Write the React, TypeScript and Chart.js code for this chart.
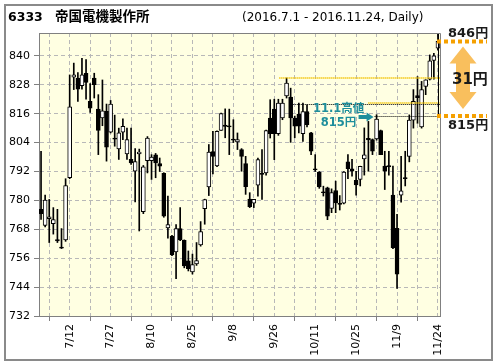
import React, { useEffect, useRef } from 'react';
import { Chart, registerables } from 'chart.js';
Chart.register(...registerables);

const dates = [
  '7/1','7/4','7/5','7/6','7/7','7/8','7/11','7/12','7/13','7/14','7/15','7/19','7/20','7/21','7/22','7/25','7/26','7/27','7/28','7/29',
  '8/1','8/2','8/3','8/4','8/5','8/8','8/9','8/10','8/12','8/15','8/16','8/17','8/18','8/19','8/22','8/23','8/24','8/25','8/26','8/29','8/30','8/31',
  '9/1','9/2','9/5','9/6','9/7','9/8','9/9','9/12','9/13','9/14','9/15','9/16','9/20','9/21','9/23','9/26','9/27','9/28','9/29','9/30',
  '10/3','10/4','10/5','10/6','10/7','10/11','10/12','10/13','10/14','10/17','10/18','10/19','10/20','10/21','10/24','10/25','10/26','10/27','10/28','10/31',
  '11/1','11/2','11/4','11/7','11/8','11/9','11/10','11/11','11/14','11/15','11/16','11/17','11/18','11/21','11/22','11/24'
];
const opens = [
  776.3,769.6,772.4,770.3,763.7,760.6,763.6,789.4,831.2,830.8,827.6,832.8,821.1,830.8,817.9,814.2,817.0,808.3,805.9,801.4,
  808.3,799.3,797.0,792.1,799.3,775.3,796.5,796.5,798.9,795.3,791.2,768.6,765.2,758.6,768.3,763.4,754.9,750.3,753.6,761.5,776.6,785.6,
  800.3,794.3,809.1,811.3,811.0,805.5,804.3,801.1,795.3,780.5,778.8,786.3,791.2,791.4,814.2,817.9,807.7,814.2,823.4,822.9,
  814.2,815.8,807.7,816.9,808.0,793.1,791.8,783.6,785.2,776.7,784.1,778.8,778.8,796.0,793.1,788.3,788.7,797.2,805.8,805.3,
  805.5,809.0,794.2,794.5,782.2,768.4,782.2,789.5,798.3,813.3,823.5,810.5,827.3,830.3,838.1,843.2
];
const highs = [
  800.4,782.2,780.4,777.0,776.3,768.3,789.0,832.1,837.0,833.1,839.0,838.5,828.5,832.8,823.9,830.0,820.0,821.5,815.4,810.0,
  813.9,810.0,810.0,801.5,801.3,794.5,806.5,799.0,799.5,797.6,791.5,781.8,765.5,770.0,777.0,763.6,759.0,757.7,762.5,771.2,780.5,803.2,
  808.7,808.9,816.2,818.0,817.9,813.5,808.0,801.5,798.3,783.2,780.4,797.6,801.1,809.2,821.8,822.0,822.0,822.0,830.8,826.6,
  815.0,820.4,820.4,819.7,808.3,799.0,792.0,785.9,785.5,784.8,788.0,782.0,792.0,799.0,797.0,792.1,794.2,810.1,812.8,805.5,
  815.6,809.2,800.4,800.4,794.2,774.2,798.3,800.4,815.5,826.0,831.4,829.4,830.1,840.4,841.1,849.4
];
const lows = [
  772.1,769.0,762.5,766.0,762.5,760.0,763.0,789.0,826.0,821.1,826.2,822.0,816.5,822.5,799.0,811.0,796.3,808.0,802.5,797.0,
  805.2,797.0,794.9,779.4,767.3,774.5,791.4,788.7,789.4,792.0,773.0,764.3,757.0,747.5,763.3,752.0,750.7,749.4,753.0,761.0,770.1,782.0,
  791.0,794.0,809.0,806.0,799.0,804.0,801.1,792.1,782.5,777.0,777.0,781.8,780.4,790.5,805.9,796.9,807.0,813.5,822.5,804.1,
  806.0,808.0,804.5,810.5,799.0,792.0,785.0,781.8,772.0,774.9,774.9,776.0,778.5,789.0,790.1,782.2,786.0,790.5,792.1,799.0,
  805.0,799.0,784.5,790.5,760.0,743.4,779.3,786.0,796.0,810.0,812.0,810.0,823.9,830.0,830.3,842.5
];
const closes = [
  774.5,780.1,773.2,772.0,763.2,760.2,786.2,818.8,832.1,826.2,832.1,829.0,818.3,828.0,809.1,817.2,802.1,820.0,805.4,808.0,
  810.8,805.2,795.6,796.1,800.1,793.9,805.9,798.0,795.6,794.2,773.5,770.0,757.4,768.3,763.6,752.8,751.7,753.4,755.0,767.0,780.3,800.1,
  798.3,808.7,816.0,810.7,810.5,805.0,805.2,798.3,785.7,777.4,780.4,796.9,790.8,809.0,807.7,807.7,820.4,820.4,828.7,814.2,
  810.8,810.8,816.9,811.4,800.4,792.6,785.6,783.2,773.5,783.2,779.0,778.3,791.8,793.2,792.1,786.4,794.1,798.9,805.1,800.4,
  813.8,799.0,792.1,793.9,760.4,749.4,784.0,789.0,813.3,821.1,822.6,826.0,830.1,837.9,840.0,846.0
];
const yTicks = [732, 744, 756, 768, 780, 792, 804, 816, 828, 840];
const titleCode = '6333';
const titleName = '帝国電機製作所';
const subtitle = '(2016.7.1 - 2016.11.24, Daily)';
const lastPrice = 846;
const breakPrice = 815;
const breakIndex = 82;
const recentHigh = 830.8;
const midHigh = 820.1;
const midHigh2 = 820.6;

const decor = {
  id: 'decor',
  beforeDraw(chart: any) {
    const { ctx, chartArea: a } = chart;
    ctx.save();
    ctx.fillStyle = '#ffffff';
    ctx.fillRect(0, 0, chart.width, chart.height);
    ctx.fillStyle = '#ffffe2';
    ctx.fillRect(a.left, a.top, a.right - a.left, a.bottom - a.top);
    ctx.strokeStyle = '#8a8a8a';
    ctx.lineWidth = 2;
    ctx.strokeRect(5, 5, 487, 355);
    ctx.fillStyle = '#000';
    ctx.textBaseline = 'alphabetic';
    ctx.textAlign = 'left';
    ctx.font = "bold 12.5px 'DejaVu Sans'";
    ctx.fillText(titleCode, 8, 21);
    ctx.font = "bold 13.5px 'Noto Sans CJK JP'";
    ctx.fillText(titleName, 55, 21);
    ctx.font = "12px 'DejaVu Sans'";
    ctx.fillText(subtitle, 242, 21);
    ctx.restore();
  },
  afterDatasetsDraw(chart: any) {
    const { ctx, chartArea: a } = chart;
    const xs = chart.scales.x;
    const ys = chart.scales.y;
    ctx.save();
    const dotted = (v: number, x1: number, color: string, w: number) => {
      const y = Math.round(ys.getPixelForValue(v)) + (w === 1 ? 0.5 : 0);
      ctx.strokeStyle = color;
      ctx.lineWidth = w;
      ctx.setLineDash([1, 1]);
      ctx.beginPath();
      ctx.moveTo(x1, y);
      ctx.lineTo(a.right, y);
      ctx.stroke();
    };
    dotted(recentHigh, xs.getPixelForValue(58) + 1, '#f2c200', 2);
    dotted(midHigh2, xs.getPixelForValue(80), '#f2c200', 2);
    dotted(midHigh, xs.getPixelForValue(62) - 4, '#000', 1);
    dotted(breakPrice, xs.getPixelForValue(breakIndex) - 2, '#000', 1);
    ctx.setLineDash([]);
    // vertical line at last candle
    const xl = Math.round(xs.getPixelForValue(dates.length - 1)) + 0.5;
    ctx.strokeStyle = '#000';
    ctx.lineWidth = 1;
    ctx.beginPath();
    ctx.moveTo(xl, ys.getPixelForValue(breakPrice));
    ctx.lineTo(xl, ys.getPixelForValue(highs[highs.length - 1]));
    ctx.stroke();
    // right frame
    ctx.strokeStyle = '#808080';
    ctx.beginPath();
    ctx.moveTo(a.left, Math.round(a.top) + 0.5);
    ctx.lineTo(Math.round(a.right) + 0.5, Math.round(a.top) + 0.5);
    ctx.lineTo(Math.round(a.right) + 0.5, a.bottom);
    ctx.stroke();
    // orange dotted markers
    const yTop = ys.getPixelForValue(lastPrice);
    const yBot = ys.getPixelForValue(breakPrice);
    ctx.strokeStyle = '#f5a000';
    ctx.lineWidth = 4;
    ctx.setLineDash([4, 3]);
    [yTop, yBot].forEach((y) => {
      ctx.beginPath();
      ctx.moveTo(a.right - 3, y);
      ctx.lineTo(a.right + 47, y);
      ctx.stroke();
    });
    ctx.setLineDash([]);
    // orange double arrow
    const cx = a.right + 23;
    const t = yTop + 5;
    const b = yBot - 7;
    const hh = 17, hw = 13.5, sw = 7;
    ctx.fillStyle = 'rgba(247,166,30,0.72)';
    ctx.beginPath();
    ctx.moveTo(cx, t);
    ctx.lineTo(cx + hw, t + hh);
    ctx.lineTo(cx + sw, t + hh);
    ctx.lineTo(cx + sw, b - hh);
    ctx.lineTo(cx + hw, b - hh);
    ctx.lineTo(cx, b);
    ctx.lineTo(cx - hw, b - hh);
    ctx.lineTo(cx - sw, b - hh);
    ctx.lineTo(cx - sw, t + hh);
    ctx.lineTo(cx - hw, t + hh);
    ctx.closePath();
    ctx.fill();
    // right texts
    ctx.fillStyle = '#1a1a1a';
    ctx.textAlign = 'left';
    ctx.textBaseline = 'middle';
    ctx.font = "bold 13px 'DejaVu Sans', 'Noto Sans CJK JP'";
    ctx.fillText(lastPrice + '円', a.right + 8, yTop - 8);
    ctx.fillText(breakPrice + '円', a.right + 8, yBot + 10);
    ctx.font = "bold 15px 'DejaVu Sans', 'Noto Sans CJK JP'";
    ctx.fillText((lastPrice - breakPrice) + '円', a.right + 12, (yTop + yBot) / 2 + 1);
    // teal annotation
    const xb = xs.getPixelForValue(breakIndex);
    const ya = yBot + 1;
    ctx.fillStyle = '#1e8e9c';
    ctx.beginPath();
    ctx.moveTo(xb - 3, ya);
    ctx.lineTo(xb - 10, ya - 4.5);
    ctx.lineTo(xb - 10, ya - 2);
    ctx.lineTo(xb - 18, ya - 2);
    ctx.lineTo(xb - 18, ya + 2);
    ctx.lineTo(xb - 10, ya + 2);
    ctx.lineTo(xb - 10, ya + 4.5);
    ctx.closePath();
    ctx.fill();
    ctx.textAlign = 'center';
    ctx.font = "bold 11.5px 'DejaVu Sans', 'Noto Sans CJK JP'";
    ctx.fillText(dates[breakIndex].replace('/', '.') + '高値', xb - 38, yBot - 7);
    ctx.fillText(breakPrice + '円', xb - 38, yBot + 7);
    ctx.restore();
  },
};

export default function App() {
  const ref = useRef<HTMLCanvasElement>(null);
  useEffect(() => {
    if (!ref.current) return;
    const isUp = (i: number) => closes[i] >= opens[i];
    const chart = new Chart(ref.current, {
      type: 'bar',
      data: {
        labels: dates,
        datasets: [
          {
            label: 'body',
            data: opens.map((o, i) => [o, closes[i]]),
            backgroundColor: (c: any) => (isUp(c.dataIndex) ? '#ffffff' : '#000000'),
            borderColor: '#000000',
            borderWidth: 1,
            borderSkipped: false,
            barThickness: 4,
            grouped: false,
            order: 0,
          } as any,
          {
            label: 'wick',
            data: lows.map((l, i) => [l, highs[i]]),
            backgroundColor: '#000000',
            borderWidth: 0,
            barThickness: 1,
            grouped: false,
            order: 1,
          } as any,
        ],
      },
      options: {
        responsive: false,
        animation: false,
        events: [],
        layout: { padding: { left: 0, top: 33, right: 56, bottom: 0 } },
        plugins: { legend: { display: false }, tooltip: { enabled: false }, title: { display: false } },
        scales: {
          x: {
            type: 'category',
            offset: true,
            afterFit: (s: any) => { s.height = 48; },
            grid: {
              offset: false,
              drawOnChartArea: true,
              color: (c: any) => (c.index % 5 === 2 ? '#b8b8b8' : 'rgba(0,0,0,0)'),
              tickColor: (c: any) => (c.index % 10 === 2 ? '#808080' : 'rgba(0,0,0,0)'),
              tickLength: 5,
              lineWidth: 1,
            },
            border: { display: true, color: '#808080', width: 1, dash: [4, 3] },
            ticks: {
              autoSkip: false,
              minRotation: 90,
              maxRotation: 90,
              padding: 3,
              color: '#000',
              font: { family: 'DejaVu Sans', size: 11 },
              callback: (_v: any, i: number) => (i % 10 === 7 ? dates[i] : ''),
            },
          },
          y: {
            min: 732,
            max: 849.5,
            afterFit: (s: any) => { s.width = 39; },
            afterBuildTicks: (s: any) => { s.ticks = yTicks.map((v) => ({ value: v })); },
            grid: {
              color: '#b8b8b8',
              tickColor: '#808080',
              tickLength: 5,
              lineWidth: 1,
            },
            border: { display: true, color: '#808080', width: 1, dash: [4, 3] },
            ticks: {
              padding: 4,
              color: '#000',
              font: { family: 'DejaVu Sans', size: 11 },
              callback: (v: any) => String(v),
            },
          },
        },
      },
      plugins: [decor],
    } as any);
    return () => chart.destroy();
  }, []);
  return (
    <div style={{ position: 'absolute', left: 0, top: 0, width: 496, height: 364 }}>
      <canvas ref={ref} width={496} height={364} style={{ display: 'block' }} />
    </div>
  );
}
